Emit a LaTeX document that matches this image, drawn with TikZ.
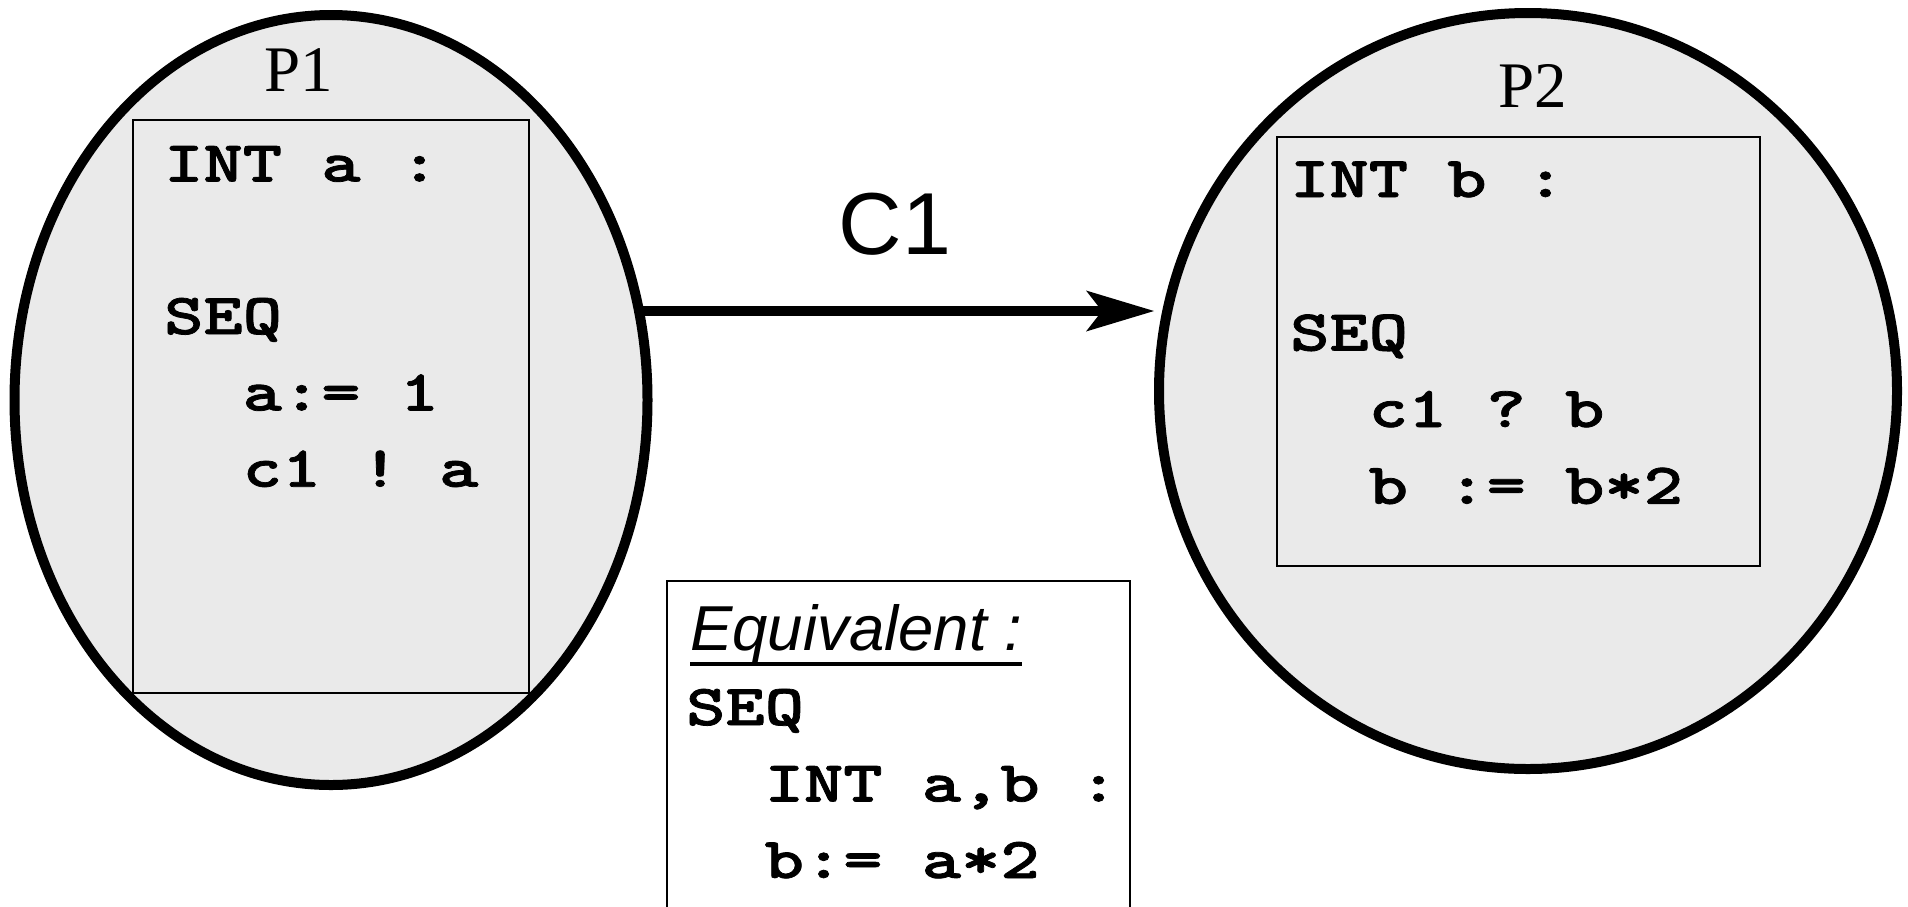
\documentclass[tikz,border=0pt]{standalone}
\usepackage{fontspec}
\setmainfont{Liberation Serif}
\newfontfamily\labelsans{Liberation Sans}
\newfontfamily\codemono{lmmonolt10-bold}[Extension=.otf, FakeStretch=1.29, FakeBold=1.3]
\usetikzlibrary{shapes.geometric, arrows.meta}
\definecolor{procgray}{RGB}{234,234,234}

\begin{document}
\begin{tikzpicture}[x=1pt, y=-1pt,
  process/.style={ellipse, draw=black, line width=10pt, fill=procgray,
    inner sep=0pt, outer sep=0pt},
  codebox/.style={draw=black, line width=2pt, inner sep=0pt, outer sep=0pt,
    anchor=north west},
  code/.style={font=\codemono\fontsize{58}{58}\selectfont\frenchspacing,
    inner sep=0pt, anchor=base west},
  proclabel/.style={font=\fontsize{65}{65}\selectfont, inner sep=0pt, anchor=base},
  chan/.style={line width=10pt,
    -{Stealth[length=68pt, width=41pt, inset=16pt, line width=0pt]}},
]
\useasboundingbox (0,0) rectangle (1908,906);
\fill[white] (0,0) rectangle (1908,906);
\clip (0,0) rectangle (1908,906);

% the two processes
\node[process, minimum width=633pt, minimum height=770pt] (P1) at (331,400) {};
\node[process, minimum width=738pt, minimum height=756pt] (P2) at (1528,391) {};

% program frames
\node[codebox, minimum width=396pt, minimum height=573pt] (P1box) at (133,120) {};
\node[codebox, minimum width=483pt, minimum height=429pt] (P2box) at (1277,137) {};
\node[codebox, fill=white, line width=2.5pt, minimum width=463pt,
      minimum height=360pt] (eqbox) at (667,581) {};

% process names
\node[proclabel] (P1name) at (299,91) {P1};
\node[proclabel] (P2name) at (1533,107) {P2};

% process P1
\node[code] (p1a) at (164,181.5) {INT a :};
\node[code] (p1b) at (164,334) {SEQ};
\node[code] (p1c) at (242.5,410.5) {a:= 1};
\node[code] (p1d) at (242.5,486.7) {c1 ! a};

% process P2
\node[code] (p2a) at (1290,197) {INT b :};
\node[code] (p2b) at (1290,350.5) {SEQ};
\node[code] (p2c) at (1368.5,427) {c1 ? b};
\node[code] (p2d) at (1368.5,503.8) {b := b*2};

% equivalent sequential program
\node[font=\labelsans\itshape\fontsize{63.5}{63.5}\selectfont, inner sep=0pt,
      anchor=base west] (eqtitle) at (690,650) {Equivalent :};
\draw[line width=4.3pt] ([yshift=-14pt]eqtitle.base west) -- ([yshift=-14pt]eqtitle.base east);
\node[code] (eqa) at (686,725) {SEQ};
\node[code] (eqb) at (764.5,801.5) {INT a,b :};
\node[code] (eqc) at (764.5,878) {b:= a*2};

% channel c1, drawn level from the border of P1 to just short of P2
\node[font=\labelsans\fontsize{88}{88}\selectfont, inner sep=0pt, anchor=base]
  (C1name) at (895,254) {C1};
\coordinate (c1tip) at (1154,311);
\draw[chan] (P1.16.12 |- c1tip) -- (c1tip);
\end{tikzpicture}
\end{document}
